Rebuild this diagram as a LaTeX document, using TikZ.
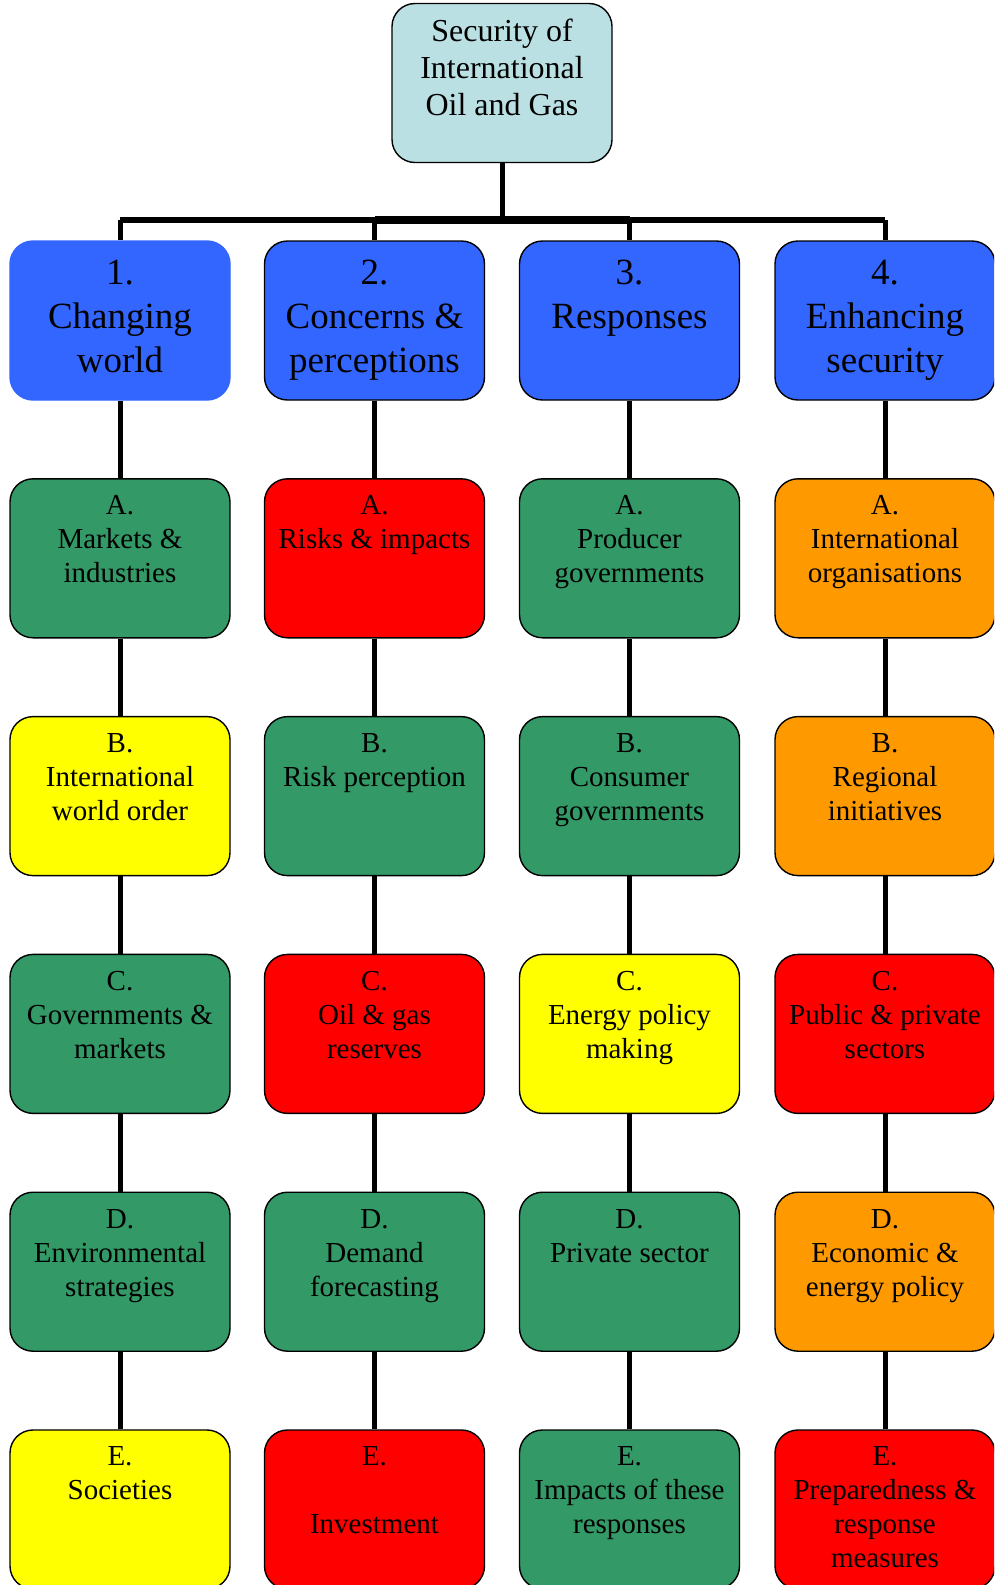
\documentclass[tikz,border=0pt]{standalone}
\usepackage{fontspec}
\setmainfont{Liberation Serif}
\usepackage{tikz}
\definecolor{hdblue}{RGB}{51,102,255}
\definecolor{cgreen}{RGB}{51,153,102}
\definecolor{cred}{RGB}{255,0,0}
\definecolor{cyellow}{RGB}{255,255,0}
\definecolor{corange}{RGB}{255,153,0}
\definecolor{topblue}{RGB}{187,224,227}
\newcommand{\celltext}[2][12pt]{\parbox[c][159pt][t]{218pt}{\centering\vspace*{#1}\strut#2}}
\tikzset{cell/.style={draw, line width=1.4pt, rounded corners=23pt, minimum width=220pt, minimum height=159pt, inner sep=0pt, font=\fontsize{29}{34}\selectfont},
	head/.style={cell, fill=hdblue, font=\fontsize{37}{44}\selectfont},
	conn/.style={line width=5pt}}

\begin{document}
\begin{tikzpicture}[x=1pt, y=-1pt]
		\useasboundingbox (0,0) rectangle (994,1585);
		\clip (0,0) rectangle (994,1585);
		% top of the tree
		\node(top)[cell, fill=topblue, minimum height=158pt, font=\fontsize{32}{37}\selectfont] at (502,83){\celltext[12pt]{Security of\\ International\\ Oil and Gas}};
		% headings
		\node(h1)[head, draw=hdblue] at (120,320.5){\celltext[13pt]{1.\\ Changing\\ world}};
		\node(h2)[head] at (374.5,320.5){\celltext[13pt]{2.\\ Concerns \&\\ perceptions}};
		\node(h3)[head] at (629.5,320.5){\celltext[13pt]{3.\\ Responses}};
		\node(h4)[head] at (885,320.5){\celltext[13pt]{4.\\ Enhancing\\ security}};
		% column 1
		\node(c1a)[cell, fill=cgreen] at (120,558.3){\celltext{A.\\ Markets \&\\ industries}};
		\node(c1b)[cell, fill=cyellow] at (120,796.1){\celltext{B.\\ International\\ world order}};
		\node(c1c)[cell, fill=cgreen] at (120,1033.9){\celltext{C.\\ Governments \&\\ markets}};
		\node(c1d)[cell, fill=cgreen] at (120,1271.7){\celltext{D.\\ Environmental\\ strategies}};
		\node(c1e)[cell, fill=cyellow] at (120,1509.5){\celltext{E.\\ Societies}};
		% column 2
		\node(c2a)[cell, fill=cred] at (374.5,558.3){\celltext{A.\\ Risks \& impacts}};
		\node(c2b)[cell, fill=cgreen] at (374.5,796.1){\celltext{B.\\ Risk perception}};
		\node(c2c)[cell, fill=cred] at (374.5,1033.9){\celltext{C.\\ Oil \& gas\\ reserves}};
		\node(c2d)[cell, fill=cgreen] at (374.5,1271.7){\celltext{D.\\ Demand\\ forecasting}};
		\node(c2e)[cell, fill=cred] at (374.5,1509.5){\celltext{E.\\ \strut\\ Investment}};
		% column 3
		\node(c3a)[cell, fill=cgreen] at (629.5,558.3){\celltext{A.\\ Producer\\ governments}};
		\node(c3b)[cell, fill=cgreen] at (629.5,796.1){\celltext{B.\\ Consumer\\ governments}};
		\node(c3c)[cell, fill=cyellow] at (629.5,1033.9){\celltext{C.\\ Energy policy\\ making}};
		\node(c3d)[cell, fill=cgreen] at (629.5,1271.7){\celltext{D.\\ Private sector}};
		\node(c3e)[cell, fill=cgreen] at (629.5,1509.5){\celltext{E.\\ Impacts of these\\ responses}};
		% column 4
		\node(c4a)[cell, fill=corange] at (885,558.3){\celltext{A.\\ International\\ organisations}};
		\node(c4b)[cell, fill=corange] at (885,796.1){\celltext{B.\\ Regional\\ initiatives}};
		\node(c4c)[cell, fill=cred] at (885,1033.9){\celltext{C.\\ Public \& private\\ sectors}};
		\node(c4d)[cell, fill=corange] at (885,1271.7){\celltext{D.\\ Economic \&\\ energy policy}};
		\node(c4e)[cell, fill=cred] at (885,1509.5){\celltext{E.\\ Preparedness \&\\ response\\ measures}};
		% the bar
		\coordinate(bar) at (502,220);
		\draw[conn](top) -- (bar);
		\draw[line width=6pt](h1.north |- bar) -- (h4.north |- bar);
		\draw[line width=8pt](h2.north |- bar) -- (h3.north |- bar);
		\draw[conn](h1.north |- bar) -- (h1);
		\draw[conn](h2.north |- bar) -- (h2);
		\draw[conn](h3.north |- bar) -- (h3);
		\draw[conn](h4.north |- bar) -- (h4);
		% columns
		\draw[conn](h1) -- (c1a) (c1a) -- (c1b) (c1b) -- (c1c) (c1c) -- (c1d) (c1d) -- (c1e);
		\draw[conn](h2) -- (c2a) (c2a) -- (c2b) (c2b) -- (c2c) (c2c) -- (c2d) (c2d) -- (c2e);
		\draw[conn](h3) -- (c3a) (c3a) -- (c3b) (c3b) -- (c3c) (c3c) -- (c3d) (c3d) -- (c3e);
		\draw[conn](h4) -- (c4a) (c4a) -- (c4b) (c4b) -- (c4c) (c4c) -- (c4d) (c4d) -- (c4e);
	\end{tikzpicture}
\end{document}
